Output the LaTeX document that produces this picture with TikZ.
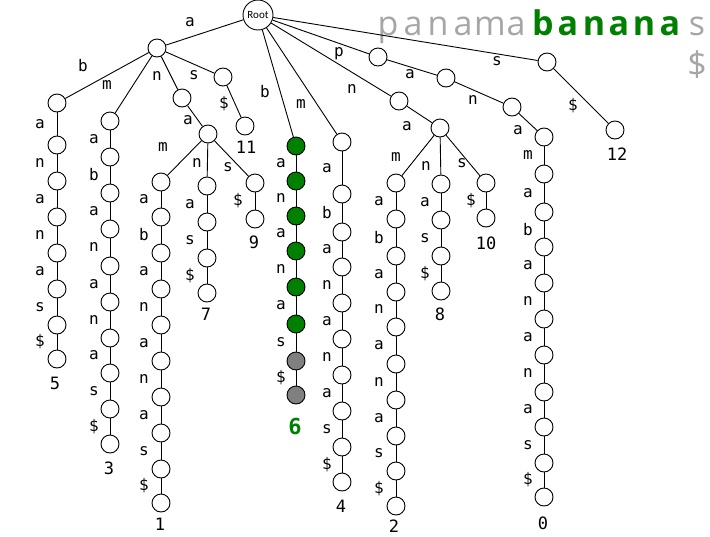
\documentclass[tikz,border=0pt]{standalone}
\usepackage{fontspec}
\setmainfont{Open Sans}
\newfontfamily\monof{DejaVu Sans Mono}
\newfontfamily\carl{Carlito}
\definecolor{tgreen}{RGB}{0,128,0}
\definecolor{tgray}{RGB}{128,128,128}
\definecolor{lgray}{RGB}{166,166,166}
\newcommand{\trchain}[5]{%
  \foreach \yy/\ll [count=\ii, remember=\ii as \pp (initially 0), remember=\yy as \py (initially #4)] in {#5} {
    \node[v] (#1-\ii) at (#2,\yy) {};
    \draw[edge] (#1-\pp) -- (#1-\ii);
    \node[el] (#1-l\ii) at (#3,{(\yy+\py)/2}) {\ll};
  }%
}
\begin{document}
\begin{tikzpicture}[x=1pt,y=-1pt,
  v/.style={circle,draw,line width=0.9pt,minimum size=18pt,inner sep=0pt,fill=white},
  gv/.style={v,fill=tgreen},
  yv/.style={v,fill=tgray},
  edge/.style={line width=0.9pt},
  el/.style={font=\monof\fontsize{16}{16}\selectfont,inner sep=0pt},
  num/.style={font=\monof\fontsize{17}{17}\selectfont,inner sep=0pt},
  tl/.style={anchor=base,inner sep=0pt,text=lgray,font=\fontsize{34}{34}\selectfont},
  tb/.style={anchor=base,inner sep=0pt,text=tgreen,font=\bfseries\fontsize{34}{34}\selectfont}]
\useasboundingbox (0,0) rectangle (710,536);

% top text
\node[tl] (t1) at (388,35) {p};
\node[tl] (t2) at (413,35) {a};
\node[tl] (t3) at (438,35) {n};
\node[tl] (t4) at (463,35) {a};
\node[tl] (t5) at (490,35) {m};
\node[tl] (t6) at (516,35) {a};
\node[tb] (t7) at (543,35) {b};
\node[tb] (t8) at (568,35) {a};
\node[tb] (t9) at (594,35) {n};
\node[tb] (t10) at (619,35) {a};
\node[tb] (t11) at (644,35) {n};
\node[tb] (t12) at (670,35) {a};
\node[tl] (t13) at (697,35) {s};
\node[tl] (t14) at (697,76) {\$};

% root and first level
\node[v,minimum size=30pt,font=\carl\fontsize{11}{11}\selectfont] (R) at (258,15) {Root};
\node[v] (A) at (157,48) {};
\node[v] (P) at (378,57) {};
\node[v] (S) at (547,62) {};
\node[v] (N) at (399,101) {};
\node[v] (M-0) at (342,142) {};
\node[gv] (B-0) at (296,146) {};
\foreach \t in {A,P,S,N,M-0,B-0} \draw[edge] (R) -- (\t);
\node[el] (lRA) at (190,22) {a};
\node[el] (lRB) at (265,92) {b};
\node[el] (lRM) at (301,104) {m};
\node[el] (lRN) at (352,89) {n};
\node[el] (lRP) at (339,54) {p};
\node[el] (lRS) at (497,61) {s};

% subtree a
\node[v] (AB-0) at (57,103) {};
\node[v] (AM-0) at (110,121) {};
\node[v] (AN) at (182,98) {};
\node[v] (AS) at (223,77) {};
\node[v] (AS1) at (245,126) {};
\foreach \t in {AB-0,AM-0,AN,AS} \draw[edge] (A) -- (\t);
\draw[edge] (AS) -- (AS1);
\node[el] (lAB) at (83,66) {b};
\node[el] (lAM) at (107,85) {m};
\node[el] (lAN) at (157,76) {n};
\node[el] (lAS) at (194,75) {s};
\node[el] (lAS1) at (224,104) {\$};
\node[num] (n11) at (246,147) {11};

\node[v] (ANA) at (208,134) {};
\draw[edge] (AN) -- (ANA);
\node[el] (lANA) at (188,120) {a};
\node[v] (ANAM-0) at (161,182) {};
\node[v] (ANAN-0) at (207,186) {};
\node[v] (ANAS-0) at (255,183) {};
\foreach \t in {ANAM-0,ANAN-0,ANAS-0} \draw[edge] (ANA) -- (\t);
\node[el] (lANAM) at (163,147) {m};
\node[el] (lANAN) at (197,163) {n};
\node[el] (lANAS) at (228,167) {s};

\trchain{AB}{57}{40}{103}{145/a,181/n,217/a,253/n,289/a,325/s,359/\$}
\node[num] (n5) at (55,383) {5};
\trchain{AM}{110}{94}{121}{157/a,193/b,229/a,266/n,302/a,338/n,373/a,409/s,444/\$}
\node[num] (n3) at (109,468) {3};
\trchain{ANAM}{161}{144}{182}{217/a,253/b,289/a,325/n,361/a,397/n,433/a,469/s,503/\$}
\node[num] (n1) at (160,524) {1};
\trchain{ANAN}{207}{190}{186}{222/a,258/s,293/\$}
\node[num] (n7) at (206,314) {7};
\trchain{ANAS}{255}{238}{183}{219/\$}
\node[num] (n9) at (254,242) {9};

% subtree b (green)
\foreach \yy/\ll/\st [count=\ii, remember=\ii as \pp (initially 0), remember=\yy as \py (initially 146)] in {181/a/gv,216/n/gv,251/a/gv,287/n/gv,324/a/gv,361/s/yv,395/\$/yv} {
  \node[\st] (B-\ii) at (296,\yy) {};
  \draw[edge] (B-\pp) -- (B-\ii);
  \node[el] (B-l\ii) at (281,{(\yy+\py)/2}) {\ll};
}
\node[num,text=tgreen,font=\monof\bfseries\fontsize{22}{22}\selectfont] (n6) at (295,427) {6};

% subtree m
\trchain{M}{342}{327}{142}{194/a,232/b,267/a,303/n,339/a,375/n,411/a,447/s,482/\$}
\node[num] (n4) at (341,506) {4};

% subtree n
\node[v] (NA) at (440,128) {};
\draw[edge] (N) -- (NA);
\node[el] (lNA) at (407,126) {a};
\node[v] (NAM-0) at (396,183) {};
\node[v] (NAN-0) at (441,184) {};
\node[v] (NAS-0) at (486,183) {};
\foreach \t in {NAM-0,NAN-0,NAS-0} \draw[edge] (NA) -- (\t);
\node[el] (lNAM) at (396,157) {m};
\node[el] (lNAN) at (426,166) {n};
\node[el] (lNAS) at (462,163) {s};
\trchain{NAM}{396}{379}{183}{219/a,256/b,292/a,327/n,364/a,400/n,436/a,471/s,506/\$}
\node[num] (n2) at (394,526) {2};
\trchain{NAN}{441}{425}{184}{220/a,256/s,291/\$}
\node[num] (n8) at (440,314) {8};
\trchain{NAS}{486}{471}{183}{218/\$}
\node[num] (n10) at (486,243) {10};

% subtree p
\node[v] (PA) at (446,78) {};
\node[v] (PAN) at (512,107) {};
\node[v] (PANA-0) at (544,137) {};
\draw[edge] (P) -- (PA);
\draw[edge] (PA) -- (PAN);
\draw[edge] (PAN) -- (PANA-0);
\node[el] (lPA) at (410,74) {a};
\node[el] (lPAN) at (473,100) {n};
\node[el] (lPANA) at (518,130) {a};
\trchain{PANA}{544}{528}{137}{174/m,212/a,247/b,283/a,319/n,355/a,392/n,427/a,463/s,497/\$}
\node[num] (n0) at (543,523) {0};

% subtree s
\node[v] (S1) at (615,130) {};
\draw[edge] (S) -- (S1);
\node[el] (lS1) at (573,106) {\$};
\node[num] (n12) at (617,154) {12};
\end{tikzpicture}
\end{document}
